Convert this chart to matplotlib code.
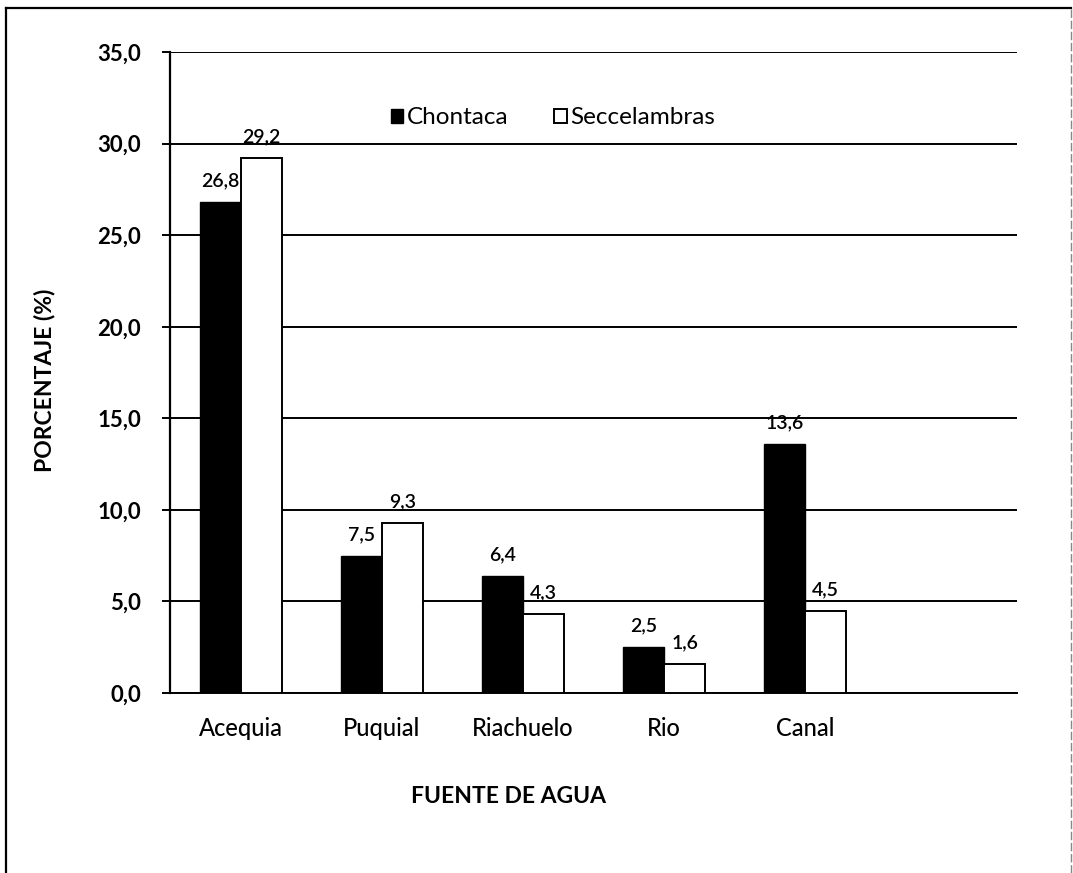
import matplotlib
matplotlib.use("Agg")
import matplotlib.pyplot as plt
from matplotlib.ticker import FuncFormatter, MultipleLocator
from matplotlib.patches import Patch
from matplotlib.lines import Line2D
import numpy as np

plt.rcParams['font.family'] = ['Lato', 'DejaVu Sans']

categories = ["Acequia", "Puquial", "Riachuelo", "Rio", "Canal", ""]
chontaca = [26.8, 7.5, 6.4, 2.5, 13.6, None]
seccelambras = [29.2, 9.3, 4.3, 1.6, 4.5, None]
series_names = ["Chontaca", "Seccelambras"]

fig = plt.figure(figsize=(10.73, 8.73), dpi=100)
ax = fig.add_axes([170 / 1073, 1 - 693 / 873, 847 / 1073, 641 / 873])

x = np.arange(len(categories))
w = 0.29
idx = [i for i, v in enumerate(chontaca) if v is not None]
c_vals = [chontaca[i] for i in idx]
s_vals = [seccelambras[i] for i in idx]
xi = x[idx]

ax.set_axisbelow(True)
ax.yaxis.grid(True, color="black", linewidth=1.4)
b1 = ax.bar(xi - w / 2, c_vals, w, color="black", edgecolor="black", linewidth=1, zorder=3)
b2 = ax.bar(xi + w / 2, s_vals, w, color="white", edgecolor="black", linewidth=1.4, zorder=3)

fmt = lambda v: f"{v:.1f}".replace(".", ",")
for bars, vals in ((b1, c_vals), (b2, s_vals)):
    for r, v in zip(bars, vals):
        ax.annotate(fmt(v), (r.get_x() + r.get_width() / 2, v), xytext=(0, 9),
                    textcoords="offset points", ha="center", va="bottom",
                    fontsize=14, fontweight="semibold")

ax.set_xlim(-0.5, len(categories) - 0.5)
ax.set_ylim(0, 35)
ax.yaxis.set_major_locator(MultipleLocator(5))
ax.yaxis.set_major_formatter(FuncFormatter(lambda v, p: fmt(v)))
ax.set_xticks(x)
ax.set_xticklabels(categories, fontsize=17, fontweight="medium")
ax.tick_params(axis="x", length=0, pad=17)
ax.tick_params(axis="y", length=6, width=1.4, labelsize=16, pad=15)
for lab in ax.get_yticklabels():
    lab.set_fontweight("bold")

for s in ("top", "right"):
    ax.spines[s].set_visible(False)
ax.spines["left"].set_linewidth(1.6)
ax.spines["bottom"].set_linewidth(1.4)

ax.set_ylabel("PORCENTAJE (%)", fontsize=16.5, fontweight="bold", va="center")
ax.yaxis.set_label_coords(-0.148, 0.488)
ax.set_xlabel("FUENTE DE AGUA", fontsize=16.5, fontweight="bold", va="center")
ax.xaxis.set_label_coords(0.40, -0.162)

handles = [Patch(facecolor="black", edgecolor="black"),
           Patch(facecolor="white", edgecolor="black", linewidth=1.4)]
ax.legend(handles, series_names, loc="center", bbox_to_anchor=(553 / 1073, 1 - 118 / 873),
          bbox_transform=fig.transFigure, ncol=2, frameon=False, fontsize=17.5,
          handlelength=0.5, handleheight=0.5, handletextpad=0.15, columnspacing=1.9)

# outer frame
fig.add_artist(Line2D([6 / 1073, 6 / 1073], [0, 1 - 8 / 873], transform=fig.transFigure,
                      color="black", linewidth=1.6))
fig.add_artist(Line2D([6 / 1073, 1071 / 1073], [1 - 8 / 873, 1 - 8 / 873],
                      transform=fig.transFigure, color="black", linewidth=1.6))
fig.add_artist(Line2D([1071 / 1073, 1071 / 1073], [0, 1 - 8 / 873], transform=fig.transFigure,
                      color="#888888", linewidth=1.0, linestyle=(0, (6, 2))))

fig.savefig("out.png", dpi=100)
